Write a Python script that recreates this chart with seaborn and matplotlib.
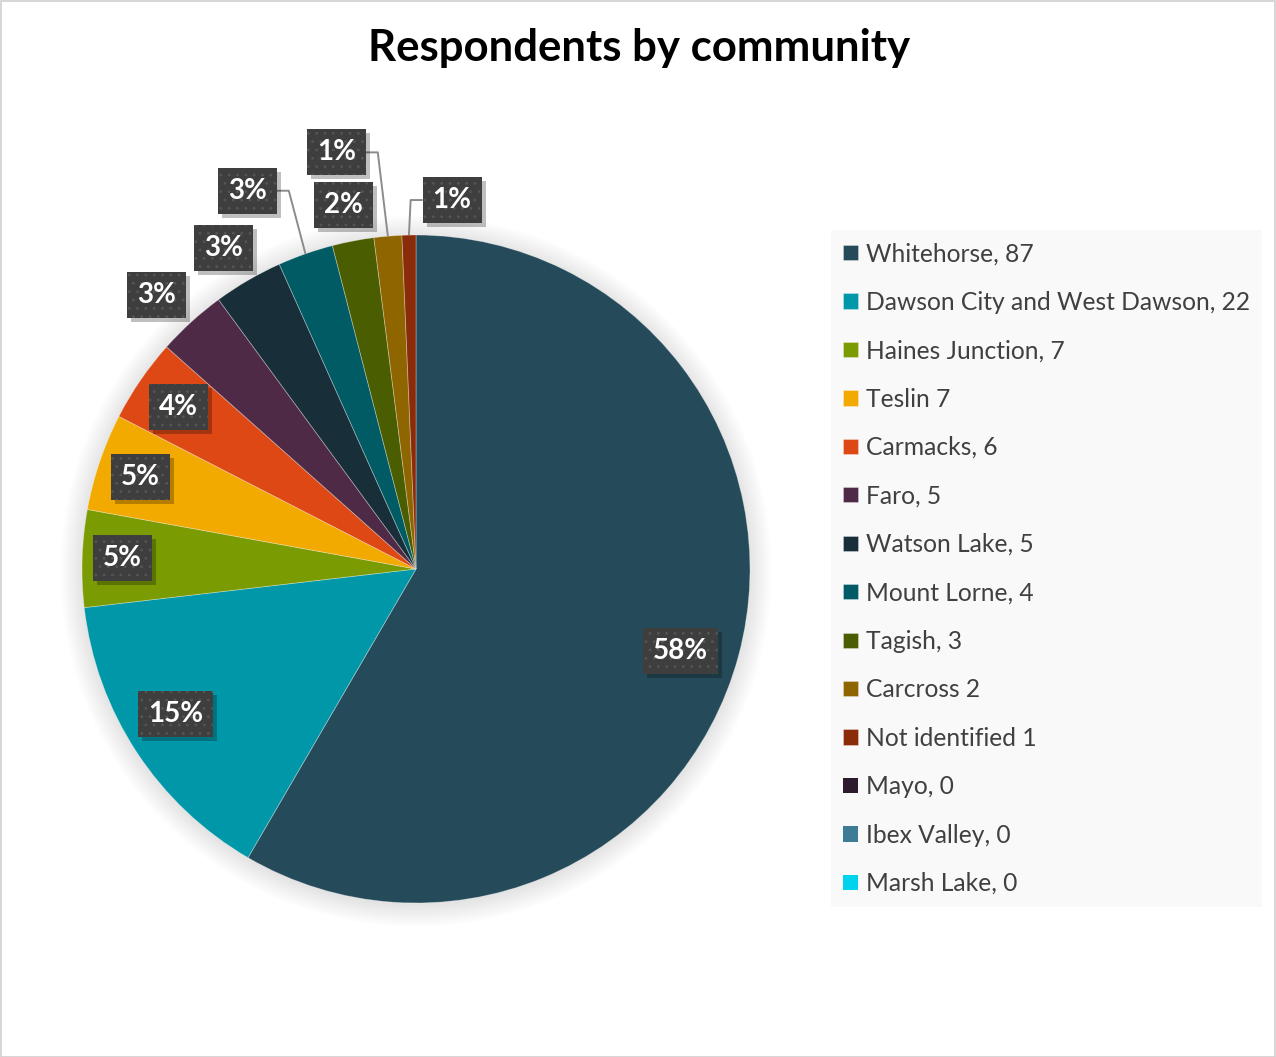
import numpy as np
import matplotlib
matplotlib.use("Agg")
import matplotlib.pyplot as plt
from matplotlib.patches import Rectangle, Circle
from matplotlib.transforms import IdentityTransform
import seaborn as sns

communities = ["Whitehorse", "Dawson City and West Dawson", "Haines Junction", "Teslin",
               "Carmacks", "Faro", "Watson Lake", "Mount Lorne", "Tagish", "Carcross",
               "Not identified", "Mayo", "Ibex Valley", "Marsh Lake"]
respondents = [87, 22, 7, 7, 6, 5, 5, 4, 3, 2, 1, 0, 0, 0]
legend_labels = ["Whitehorse, 87", "Dawson City and West Dawson, 22", "Haines Junction, 7",
                 "Teslin 7", "Carmacks, 6", "Faro, 5", "Watson Lake, 5", "Mount Lorne, 4",
                 "Tagish, 3", "Carcross 2", "Not identified 1", "Mayo, 0", "Ibex Valley, 0",
                 "Marsh Lake, 0"]
palette = ["#254B5A", "#0097A9", "#7A9B01", "#F2A900", "#DD4814", "#4F2A47", "#182E38",
           "#005B64", "#4A5D00", "#8F6500", "#8A2B09", "#2E1A2D", "#3E7B94", "#00D3EE"]

# label placement: radial distance (in radii) and angular nudge (deg) per slice
label_radius = [0.83, 0.84, 0.88, 0.87, 0.86, 1.13, 1.12, 1.24, 1.11, 1.27, 1.11]
label_nudge = [-2.2, -2.1, -0.3, 0.3, 0.2, 1.1, 0.7, 4.7, 0.4, 6.0, -6.8]
leader_slices = [7, 9, 10]

sns.set_theme(style="white")
plt.rcParams["font.family"] = ["Lato", "DejaVu Sans"]
plt.rcParams["hatch.linewidth"] = 0.8

W, H = 1276, 1057
fig = plt.figure(figsize=(W / 100, H / 100), dpi=100)
fig.patch.set_facecolor("white")

cx, cy, R = 416, 569, 334
ax = fig.add_axes([(cx - R) / W, (H - cy - R) / H, 2 * R / W, 2 * R / H])
ax.set_axis_off()

# soft shadow behind the pie
for k in range(14):
    ax.add_patch(Circle((0.0, -0.006), 1.0 + 0.005 * k, color="black",
                        alpha=0.008, lw=0, zorder=0, clip_on=False))

wedges, _ = ax.pie(respondents, colors=palette, startangle=90, counterclock=False,
                   radius=1.0, wedgeprops=dict(edgecolor=(1, 1, 1, 0.35), linewidth=0.6))
for w, v in zip(wedges, respondents):
    w.set_zorder(2)
    w.set_clip_on(False)
    if v == 0:
        w.set_linewidth(0)
ax.set_xlim(-1, 1)
ax.set_ylim(-1, 1)
ax.set_aspect("equal")

total = sum(respondents)
texts = []
for i, (w, v) in enumerate(zip(wedges, respondents)):
    if v == 0:
        continue
    mid = np.deg2rad((w.theta1 + w.theta2) / 2 + label_nudge[i])
    r = label_radius[i]
    t = ax.text(r * np.cos(mid), r * np.sin(mid), f"{round(100 * v / total)}%",
                ha="center", va="center", color="white", fontsize=20,
                fontweight="bold", zorder=6, clip_on=False,
                bbox=dict(boxstyle="square,pad=0.36", fc="#3E3E3E", ec="#555555",
                          lw=0, hatch=".."))
    texts.append((i, t))

fig.canvas.draw()
renderer = fig.canvas.get_renderer()
inv = ax.transData.inverted()

# drop shadows under the label boxes
for i, t in texts:
    bb = t.get_bbox_patch().get_window_extent(renderer)
    ax.add_patch(Rectangle((bb.x0 + 4, bb.y0 - 4), bb.width, bb.height,
                           transform=IdentityTransform(), fc=(0, 0, 0, 0.25),
                           ec="none", zorder=5.5, clip_on=False))

# leader lines from label boxes to their slices
for i, t in texts:
    if i not in leader_slices:
        continue
    w = wedges[i]
    mid = np.deg2rad((w.theta1 + w.theta2) / 2)
    ex, ey = np.cos(mid), np.sin(mid)
    bb = t.get_bbox_patch().get_window_extent(renderer)
    ycen = (bb.y0 + bb.y1) / 2
    tx, _ = ax.transData.transform((ex, ey))
    if tx > bb.x1:
        x0, x1 = bb.x1, bb.x1 + 12
    else:
        x0, x1 = bb.x0, bb.x0 - 12
    p0 = inv.transform((x0, ycen))
    p1 = inv.transform((x1, ycen))
    ax.plot([p0[0], p1[0], ex], [p0[1], p1[1], ey], color="#8C8C8C", lw=1.4,
            zorder=5, solid_capstyle="butt", clip_on=False)

fig.text(639 / W, 1 - 48 / H, "Respondents by community", ha="center", va="center",
         fontsize=31.5, fontweight="bold", color="black")

leg = fig.legend(wedges, legend_labels, loc="upper left",
                 bbox_to_anchor=(831 / W, 1 - 230 / H), bbox_transform=fig.transFigure,
                 frameon=True, fancybox=False, fontsize=17.7, labelcolor="#404040",
                 handlelength=0.58, handleheight=0.58, handletextpad=0.33,
                 labelspacing=1.035, borderpad=0.5, borderaxespad=0)
frame = leg.get_frame()
frame.set_facecolor("#F9F9F9")
frame.set_edgecolor("none")
frame.set_alpha(1)

# outer chart border
fig.add_artist(Rectangle((0.5 / W, 0.5 / H), 1 - 1.5 / W, 1 - 1.5 / H,
                         transform=fig.transFigure, fill=False, ec="#D0D0D0", lw=1.2))

fig.savefig("out.png", dpi=100)
